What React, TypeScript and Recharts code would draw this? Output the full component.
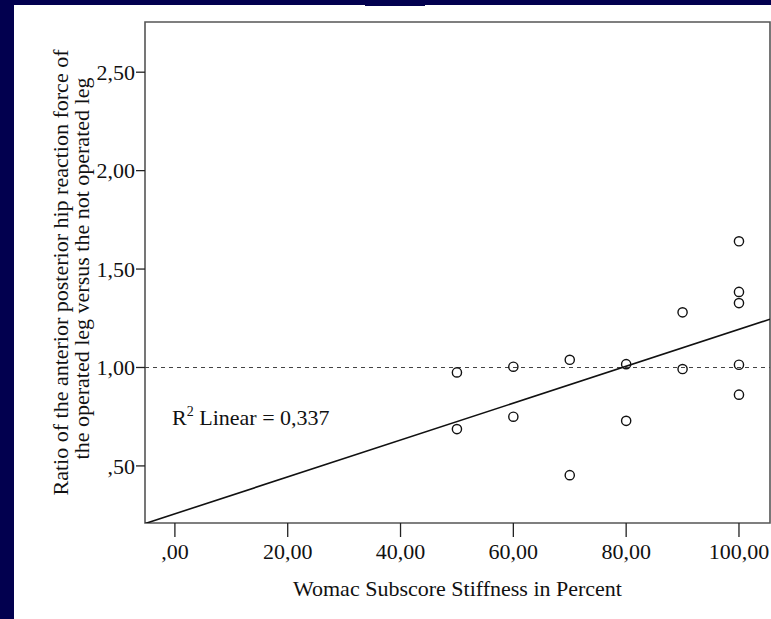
import React from 'react';
import {
  ScatterChart,
  Scatter,
  XAxis,
  YAxis,
  ReferenceLine,
  ReferenceArea,
  ReferenceDot,
} from 'recharts';

// Womac stiffness subscore (%) for each patient
const stiffness = [50, 50, 60, 60, 70, 70, 80, 80, 90, 90, 100, 100, 100, 100, 100];
// Ratio of operated vs. not operated leg hip reaction force
const forceRatio = [0.975, 0.687, 1.004, 0.75, 1.039, 0.453, 1.017, 0.729, 1.28, 0.992, 1.641, 1.384, 1.327, 1.014, 0.862];

// Linear fit end points (R² = 0,337)
const fitX = [-5.3, 105.5];
const fitY = [0.207, 1.245];

const xTicks = [0, 20, 40, 60, 80, 100];
const yTicks = [0.5, 1.0, 1.5, 2.0, 2.5];

const xDomain = [-5.3, 105.5];
const yDomain = [0.21, 2.755];

const points = stiffness.map((x, i) => ({ x, y: forceRatio[i] }));

const FONT = '"Liberation Serif", "Times New Roman", serif';
const NAVY = '#02004f';

const fmt = (v: number) => {
  const s = v.toFixed(2).replace('.', ',');
  return s.startsWith('0,') ? s.slice(1) : s;
};

const OpenCircle = (props: any) => {
  const { cx, cy } = props;
  if (cx == null || cy == null) return null;
  return <circle cx={cx} cy={cy} r={4.6} fill="none" stroke="#111" strokeWidth={1.4} />;
};

const YTitle = (props: any) => {
  const vb = props.viewBox || {};
  const cy = (vb.y ?? 22) + (vb.height ?? 501) / 2;
  return (
    <g fontFamily={FONT} fontSize={22} fill="#111">
      <text x={0} y={0} textAnchor="middle" transform={`translate(60, ${cy}) rotate(-90)`} dominantBaseline="central">
        Ratio of the anterior posterior hip reaction force of
      </text>
      <text x={0} y={0} textAnchor="middle" transform={`translate(81, ${cy - 4}) rotate(-90)`} dominantBaseline="central">
        the operated leg versus the not operated leg
      </text>
    </g>
  );
};

const XTitle = (props: any) => {
  const vb = props.viewBox || {};
  const cx = (vb.x ?? 145) + (vb.width ?? 625) / 2;
  return (
    <text x={cx} y={596} textAnchor="middle" fontFamily={FONT} fontSize={22} fill="#111">
      Womac Subscore Stiffness in Percent
    </text>
  );
};

const RLabel = (props: any) => {
  const vb = props.viewBox || {};
  const x = vb.cx ?? vb.x ?? 0;
  const y = vb.cy ?? vb.y ?? 0;
  return (
    <text x={x} y={y} fontFamily={FONT} fontSize={22} fill="#111">
      R
      <tspan fontSize={14} dy={-9}>2</tspan>
      <tspan dy={9}> Linear = 0,337</tspan>
    </text>
  );
};

export default function App() {
  return (
    <div style={{ position: 'absolute', left: 0, top: 0, width: 771, height: 619, background: '#fff', overflow: 'hidden' }}>
      <div style={{ position: 'absolute', left: 0, top: 0, width: 14, height: 619, background: NAVY }} />
      <div style={{ position: 'absolute', left: 0, top: 0, width: 771, height: 5, background: NAVY }} />
      <div style={{ position: 'absolute', left: 365, top: 0, width: 60, height: 6, background: NAVY }} />
      <div style={{ position: 'absolute', left: 0, top: 0 }}>
        <ScatterChart width={771} height={619} margin={{ top: 22, right: 1, bottom: 0, left: 85 }}>
          <XAxis
            type="number"
            dataKey="x"
            domain={xDomain}
            ticks={xTicks}
            tickFormatter={fmt}
            allowDataOverflow
            height={96}
            axisLine={false}
            tickLine={{ stroke: '#222', strokeWidth: 1.3 }}
            tickSize={14}
            tickMargin={6}
            tick={{ fontFamily: FONT, fontSize: 22, fill: '#111' }}
            label={{ content: XTitle }}
          />
          <YAxis
            type="number"
            dataKey="y"
            domain={yDomain}
            ticks={yTicks}
            tickFormatter={fmt}
            allowDataOverflow
            width={60}
            axisLine={false}
            tickLine={{ stroke: '#222', strokeWidth: 1.3 }}
            tickSize={9}
            tickMargin={1}
            tick={{ fontFamily: FONT, fontSize: 22, fill: '#111' }}
            label={{ content: YTitle }}
          />
          <ReferenceArea
            x1={xDomain[0]}
            x2={xDomain[1]}
            y1={yDomain[0]}
            y2={yDomain[1]}
            fill="none"
            stroke="#555"
            strokeWidth={1.6}
          />
          <ReferenceLine y={1} stroke="#444" strokeWidth={1.2} strokeDasharray="4 4" />
          <ReferenceLine
            segment={[
              { x: fitX[0], y: fitY[0] },
              { x: fitX[1], y: fitY[1] },
            ]}
            ifOverflow="hidden"
            stroke="#111"
            strokeWidth={1.6}
          />
          <ReferenceDot x={-0.5} y={0.71} r={0} fill="none" stroke="none" label={{ content: RLabel }} />
          <Scatter data={points} shape={OpenCircle} isAnimationActive={false} />
        </ScatterChart>
      </div>
    </div>
  );
}
